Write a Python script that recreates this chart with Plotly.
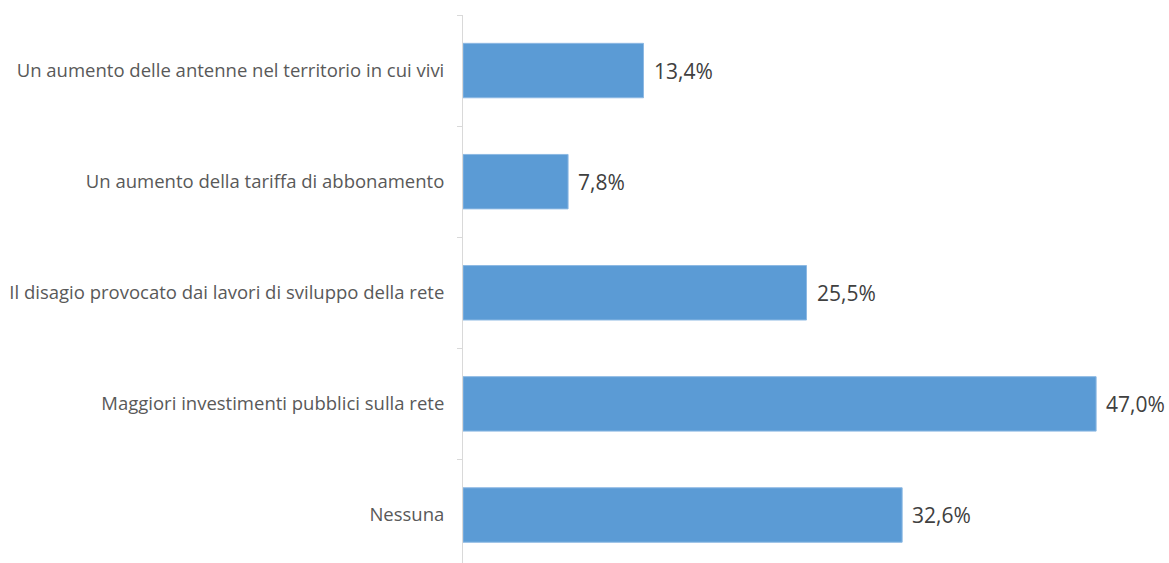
import plotly.graph_objects as go

categories = [
    "Un aumento delle antenne nel territorio in cui vivi",
    "Un aumento della tariffa di abbonamento",
    "Il disagio provocato dai lavori di sviluppo della rete",
    "Maggiori investimenti pubblici sulla rete",
    "Nessuna",
]
values = [13.4, 7.8, 25.5, 47.0, 32.6]
value_labels = ["13,4%", "7,8%", "25,5%", "47,0%", "32,6%"]

fig = go.Figure()
fig.add_trace(go.Bar(
    x=values,
    y=categories,
    orientation="h",
    width=0.49,
    marker=dict(color="#5B9BD5", line=dict(color="#8DB9E3", width=1)),
    hoverinfo="skip",
))

for cat, v, lab in zip(categories, values, value_labels):
    fig.add_annotation(
        x=v, y=cat, text=lab, showarrow=False,
        xanchor="left", xshift=8,
        font=dict(family="Open Sans", size=21, color="#404040"),
    )

fig.update_layout(
    width=1169, height=563,
    margin=dict(l=463, r=0, t=15, b=0),
    plot_bgcolor="white",
    paper_bgcolor="white",
    showlegend=False,
    xaxis=dict(
        range=[0, 52.41],
        visible=False,
    ),
    yaxis=dict(
        type="category",
        range=[4.432, -0.5],
        showline=True,
        linecolor="#d9d9d9",
        linewidth=1,
        ticks="outside",
        ticklen=5,
        tickcolor="#d9d9d9",
        tickson="boundaries",
        showgrid=False,
        ticklabelstandoff=14,
        tickfont=dict(family="Open Sans", size=18.5, color="#595959"),
    ),
)

fig.write_html("out.html")
